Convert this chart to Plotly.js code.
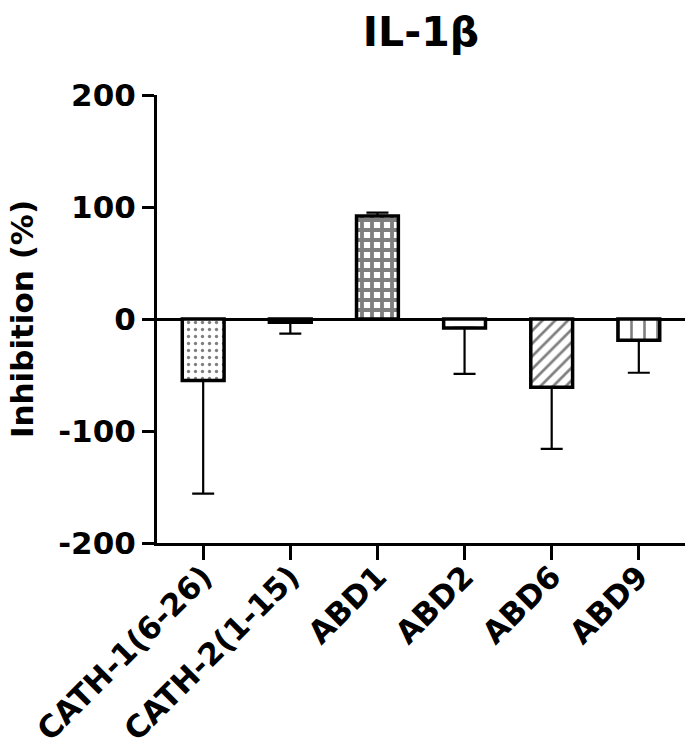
<!DOCTYPE html>
<html>
<head>
<meta charset="utf-8">
<script src="https://cdn.plot.ly/plotly-3.0.1.min.js"></script>
<style>html,body{margin:0;padding:0;background:#fff;}#chart{width:685px;height:751px;}</style>
</head>
<body>
<div id="chart"></div>
<script>
const categories = ["CATH-1(6-26)", "CATH-2(1-15)", "ABD1", "ABD2", "ABD6", "ABD9"];
const inhibition = [-55, -3, 92, -8, -61, -19];
const errorSD = [101, 10, 3, 41, 55, 29];
const patternShapes = [".", "-", "+", "", "/", "|"];
const yTickVals = [-200, -100, 0, 100, 200];

const errUp = inhibition.map((v, i) => v >= 0 ? errorSD[i] : 0);
const errDown = inhibition.map((v, i) => v < 0 ? errorSD[i] : 0);

const FONT = "DejaVu Sans";

const trace = {
  type: "bar",
  x: categories,
  y: inhibition,
  width: 0.48,
  marker: {
    color: "white",
    line: {color: "black", width: 3.5},
    pattern: {
      shape: patternShapes,
      fgcolor: "black",
      bgcolor: "white",
      fillmode: "overlay",
      size: [7, 8, 10, 8, 9, 13],
      solidity: [0.18, 0.25, 0.62, 0.2, 0.3, 0.2]
    }
  },
  error_y: {
    type: "data",
    symmetric: false,
    array: errUp,
    arrayminus: errDown,
    color: "black",
    thickness: 2.2,
    width: 11
  },
  hoverinfo: "none"
};

const layout = {
  width: 685,
  height: 751,
  margin: {l: 157, r: 0, t: 95, b: 208},
  paper_bgcolor: "white",
  plot_bgcolor: "white",
  showlegend: false,
  bargap: 0.52,
  title: {
    text: "IL-1β",
    font: {family: FONT, size: 41, weight: "bold", color: "black"},
    x: 0.5, xref: "paper",
    y: 0.958, yref: "container", yanchor: "middle"
  },
  xaxis: {
    type: "category",
    range: [-0.53, 5.53],
    showline: true, linecolor: "black", linewidth: 3,
    ticks: "outside", ticklen: 14, tickwidth: 3, tickcolor: "black",
    tickangle: -45,
    ticklabelstandoff: -14,
    tickfont: {family: FONT, size: 31, weight: "bold", color: "black"},
    showgrid: false, zeroline: false,
    automargin: false,
    fixedrange: true
  },
  yaxis: {
    range: [-200, 200],
    tickvals: yTickVals,
    ticktext: yTickVals.map(String),
    showline: true, linecolor: "black", linewidth: 3,
    ticks: "outside", ticklen: 12, tickwidth: 3, tickcolor: "black",
    tickfont: {family: FONT, size: 31, weight: "bold", color: "black"},
    showgrid: false,
    zeroline: true, zerolinecolor: "black", zerolinewidth: 3,
    title: {
      text: "Inhibition (%)",
      font: {family: FONT, size: 31, weight: "bold", color: "black"},
      standoff: 16
    },
    fixedrange: true
  }
};

Plotly.newPlot("chart", [trace], layout, {displayModeBar: false, staticPlot: true});
</script>
</body>
</html>
